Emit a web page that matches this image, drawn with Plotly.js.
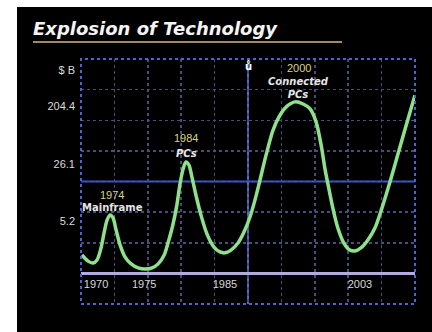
<!DOCTYPE html>
<html>
<head>
<meta charset="utf-8">
<script src="https://cdn.plot.ly/plotly-3.0.1.min.js"></script>
<style>
  html, body { margin: 0; padding: 0; background: #000; }
  #chart { width: 432px; height: 332px; }
</style>
</head>
<body>
<div id="chart"></div>
<script>
// ---- data (position along the timeline 0-100, level 0-80) ----
const timelinePos = [0.3,2.1,3.6,4.8,6.0,6.9,7.8,8.7,9.6,10.5,11.7,13.2,15.0,17.1,19.2,21.3,23.1,24.9,26.3,27.5,28.7,29.6,30.5,31.4,32.3,33.2,34.4,35.9,37.7,39.8,41.6,43.1,44.9,47.0,48.8,50.6,52.1,53.6,55.4,57.5,59.6,61.7,64.1,66.5,68.6,70.4,71.9,73.1,74.3,75.4,76.9,78.7,80.5,82.0,83.8,85.9,88.0,90.1,92.5,94.9,97.3,99.4,100];
const spending = [16.0,14.0,13.4,14.4,18.3,23.2,27.4,29.1,28.1,24.2,19.3,15.3,13.1,11.8,11.4,11.8,13.1,16.0,20.9,25.8,32.3,38.9,43.8,46.4,45.4,41.5,35.6,29.1,22.9,18.6,17.0,16.7,17.6,19.9,23.5,28.4,34.0,40.5,48.6,56.8,61.7,64.6,66.0,65.3,63.7,59.4,51.9,43.8,37.2,31.3,24.8,19.9,17.6,17.3,18.3,20.9,24.8,31.3,39.8,49.0,58.1,66.0,68.2];

const yTickText = ["5.2", "26.1", "204.4", "$ B"];
const yTickPos  = [26.9, 45.7, 64.7, 76.2];

const xTickText = ["1970", "1975", "1985", "2003"];
const xTickPos  = [4.5, 18.9, 43.1, 83.5];

const eraYears  = ["1974", "1984", "2000"];
const eraLabels = ["Mainframe", "<i>PCs</i>", "<i>Connected</i><br><i>PCs</i>"];
const eraPosX   = [9.3, 31.5, 65.2];
const eraYearY  = [35.6, 54.2, 77.0];
const eraLabelY = [31.5, 49.3, 70.5];

// ---- layout helpers ----
const W = 432, H = 332, L = 81, R = 17, T = 59, B = 28;
const pw = W - L - R, ph = H - T - B;
const px = p => (p - L) / pw;
const py = p => (H - B - p) / ph;

const traces = [
  {
    x: timelinePos, y: spending, type: 'scatter', mode: 'lines',
    line: { color: '#8fe08a', width: 3.5, shape: 'spline', smoothing: 0.8 },
    hoverinfo: 'skip', showlegend: false
  },
  { x: [], y: [], xaxis: 'x2', yaxis: 'y', type: 'scatter', showlegend: false, hoverinfo: 'skip' }
];

const annotations = [];
eraYears.forEach((yr, i) => {
  annotations.push({
    x: eraPosX[i], y: eraYearY[i], xref: 'x', yref: 'y', text: yr, showarrow: false,
    font: { family: 'Liberation Sans, Arial, sans-serif', size: 11, color: '#d9d38e' }
  });
  annotations.push({
    x: eraPosX[i], y: eraLabelY[i], xref: 'x', yref: 'y', text: '<b>' + eraLabels[i] + '</b>',
    showarrow: false, yanchor: 'middle',
    font: { family: 'DejaVu Sans, sans-serif', size: 10, color: '#e6e6e6' }
  });
});
annotations.push({
  x: 50, y: 77.6, xref: 'x', yref: 'y', text: '<b>ů</b>', showarrow: false,
  font: { family: 'DejaVu Sans, sans-serif', size: 10, color: '#ffffff' }
});

const shapes = [
  // white photo borders
  { type: 'rect', xref: 'paper', yref: 'paper', x0: px(0), x1: px(17), y0: py(H), y1: py(0),
    fillcolor: '#ffffff', line: { width: 0 }, layer: 'above' },
  { type: 'rect', xref: 'paper', yref: 'paper', x0: px(0), x1: px(W), y0: py(7), y1: py(0),
    fillcolor: '#ffffff', line: { width: 0 }, layer: 'above' },
  // title underline
  { type: 'line', xref: 'paper', yref: 'paper', x0: px(33), x1: px(342), y0: py(42), y1: py(42),
    line: { color: '#a08a62', width: 2 } },
  // solid blue guides
  { type: 'line', xref: 'paper', yref: 'y', x0: 0, x1: 1, y0: 40, y1: 40,
    line: { color: '#3d5bd0', width: 2 }, layer: 'below' },
  { type: 'line', xref: 'x', yref: 'paper', x0: 50, x1: 50, y0: 0, y1: 1,
    line: { color: '#4c6ad8', width: 2 }, layer: 'below' },
  // dotted frame
  { type: 'rect', xref: 'paper', yref: 'paper', x0: 0, x1: 1, y0: 0, y1: 1,
    line: { color: '#5064d0', width: 2, dash: 'dot' } }
];

const layout = {
  width: W, height: H,
  margin: { l: L, r: R, t: T, b: B, pad: 0 },
  paper_bgcolor: '#000000', plot_bgcolor: '#000000',
  showlegend: false,
  title: {
    text: '<b><i>Explosion of Technology</i></b>',
    xref: 'container', yref: 'container', x: 33 / W, xanchor: 'left',
    y: 1 - 29 / H, yanchor: 'middle',
    font: { family: 'DejaVu Sans, sans-serif', size: 18, color: '#f4f4f4' }
  },
  xaxis: {
    range: [0, 100], dtick: 10, tick0: 0, showgrid: true, griddash: 'dot',
    gridcolor: '#474e7c', gridwidth: 1.5, zeroline: false, showticklabels: false,
    ticks: '', showline: false, fixedrange: true
  },
  xaxis2: {
    overlaying: 'x', anchor: 'free', position: py(273), range: [0, 100],
    tickmode: 'array', tickvals: xTickPos, ticktext: xTickText,
    showgrid: false, zeroline: false, ticks: '', showline: true,
    linecolor: '#b2aae0', linewidth: 3, fixedrange: true,
    tickfont: { family: 'Liberation Sans, Arial, sans-serif', size: 11, color: '#d8d8d8' }
  },
  yaxis: {
    range: [0, 80], tickmode: 'array', tickvals: yTickPos, ticktext: yTickText,
    showgrid: false, zeroline: false, ticks: '', showline: false, fixedrange: true,
    ticklabelstandoff: 5,
    tickfont: { family: 'Liberation Sans, Arial, sans-serif', size: 11, color: '#dcdcdc' },
    minor: { tickmode: 'linear', tick0: 0, dtick: 10, showgrid: true, griddash: 'dot',
             gridcolor: '#474e7c', gridwidth: 1.5, ticks: '' }
  },
  annotations: annotations,
  shapes: shapes
};

Plotly.newPlot('chart', traces, layout, { staticPlot: true, displayModeBar: false });
</script>
</body>
</html>
